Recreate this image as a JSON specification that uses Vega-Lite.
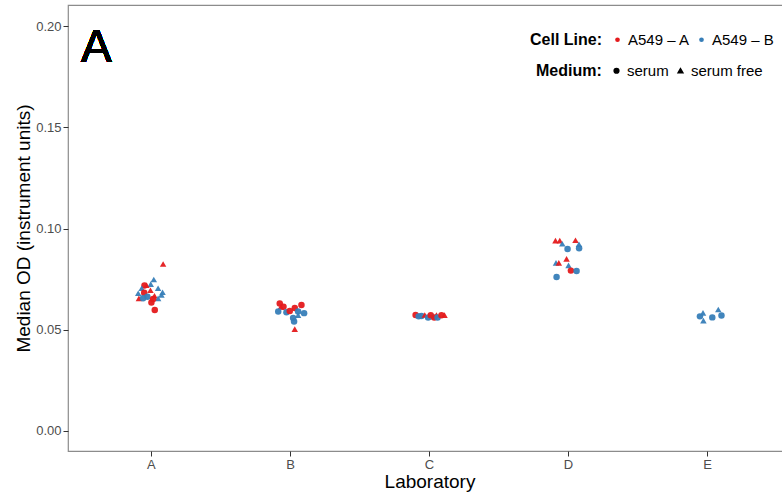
{
  "$schema": "https://vega.github.io/schema/vega-lite/v6.json",
  "autosize": "none",
  "width": 723,
  "height": 446,
  "padding": {"left": 68, "top": 5, "right": 0, "bottom": 43},
  "background": "white",
  "config": {
    "font": "Liberation Sans",
    "view": {"stroke": "#8c8c8c", "strokeWidth": 1.2},
    "axis": {"grid": false, "domain": false, "tickColor": "#333333", "tickSize": 5, "labelColor": "#4d4d4d", "labelFontSize": 13, "titleFontSize": 19, "titleFontWeight": "normal", "titleColor": "black"}
  },
  "data": {
    "values": [
      {"Laboratory": "A", "CellLine": "A549 – A", "Medium": "serum free", "OD": 0.0825, "Jitter": 0.084},
      {"Laboratory": "A", "CellLine": "A549 – B", "Medium": "serum free", "OD": 0.0748, "Jitter": 0.017},
      {"Laboratory": "A", "CellLine": "A549 – B", "Medium": "serum free", "OD": 0.0725, "Jitter": -0.005},
      {"Laboratory": "A", "CellLine": "A549 – A", "Medium": "serum", "OD": 0.0718, "Jitter": -0.05},
      {"Laboratory": "A", "CellLine": "A549 – A", "Medium": "serum free", "OD": 0.0720, "Jitter": -0.036},
      {"Laboratory": "A", "CellLine": "A549 – B", "Medium": "serum free", "OD": 0.0705, "Jitter": -0.07},
      {"Laboratory": "A", "CellLine": "A549 – B", "Medium": "serum free", "OD": 0.0705, "Jitter": 0.048},
      {"Laboratory": "A", "CellLine": "A549 – A", "Medium": "serum free", "OD": 0.0695, "Jitter": -0.007},
      {"Laboratory": "A", "CellLine": "A549 – B", "Medium": "serum free", "OD": 0.0685, "Jitter": 0.08},
      {"Laboratory": "A", "CellLine": "A549 – B", "Medium": "serum free", "OD": 0.0680, "Jitter": -0.095},
      {"Laboratory": "A", "CellLine": "A549 – A", "Medium": "serum", "OD": 0.0683, "Jitter": -0.052},
      {"Laboratory": "A", "CellLine": "A549 – B", "Medium": "serum free", "OD": 0.0672, "Jitter": 0.072},
      {"Laboratory": "A", "CellLine": "A549 – A", "Medium": "serum free", "OD": 0.0668, "Jitter": 0.022},
      {"Laboratory": "A", "CellLine": "A549 – B", "Medium": "serum", "OD": 0.0663, "Jitter": -0.029},
      {"Laboratory": "A", "CellLine": "A549 – A", "Medium": "serum free", "OD": 0.0655, "Jitter": -0.09},
      {"Laboratory": "A", "CellLine": "A549 – B", "Medium": "serum free", "OD": 0.0655, "Jitter": 0.048},
      {"Laboratory": "A", "CellLine": "A549 – A", "Medium": "serum", "OD": 0.0652, "Jitter": 0.012},
      {"Laboratory": "A", "CellLine": "A549 – B", "Medium": "serum", "OD": 0.0655, "Jitter": -0.06},
      {"Laboratory": "A", "CellLine": "A549 – A", "Medium": "serum", "OD": 0.0635, "Jitter": 0.0},
      {"Laboratory": "A", "CellLine": "A549 – A", "Medium": "serum", "OD": 0.0598, "Jitter": 0.024},
      {"Laboratory": "B", "CellLine": "A549 – A", "Medium": "serum", "OD": 0.0630, "Jitter": -0.077},
      {"Laboratory": "B", "CellLine": "A549 – A", "Medium": "serum", "OD": 0.0614, "Jitter": -0.05},
      {"Laboratory": "B", "CellLine": "A549 – A", "Medium": "serum", "OD": 0.0607, "Jitter": 0.031},
      {"Laboratory": "B", "CellLine": "A549 – A", "Medium": "serum", "OD": 0.0622, "Jitter": 0.079},
      {"Laboratory": "B", "CellLine": "A549 – A", "Medium": "serum free", "OD": 0.0612, "Jitter": -0.07},
      {"Laboratory": "B", "CellLine": "A549 – B", "Medium": "serum", "OD": 0.0590, "Jitter": -0.088},
      {"Laboratory": "B", "CellLine": "A549 – B", "Medium": "serum", "OD": 0.0586, "Jitter": -0.029},
      {"Laboratory": "B", "CellLine": "A549 – A", "Medium": "serum", "OD": 0.0592, "Jitter": -0.005},
      {"Laboratory": "B", "CellLine": "A549 – B", "Medium": "serum", "OD": 0.0590, "Jitter": 0.055},
      {"Laboratory": "B", "CellLine": "A549 – B", "Medium": "serum", "OD": 0.0582, "Jitter": 0.098},
      {"Laboratory": "B", "CellLine": "A549 – B", "Medium": "serum free", "OD": 0.0572, "Jitter": 0.055},
      {"Laboratory": "B", "CellLine": "A549 – B", "Medium": "serum", "OD": 0.0558, "Jitter": 0.019},
      {"Laboratory": "B", "CellLine": "A549 – B", "Medium": "serum", "OD": 0.0541, "Jitter": 0.026},
      {"Laboratory": "B", "CellLine": "A549 – A", "Medium": "serum free", "OD": 0.0503, "Jitter": 0.031},
      {"Laboratory": "C", "CellLine": "A549 – A", "Medium": "serum", "OD": 0.0573, "Jitter": -0.1},
      {"Laboratory": "C", "CellLine": "A549 – B", "Medium": "serum", "OD": 0.0566, "Jitter": -0.078},
      {"Laboratory": "C", "CellLine": "A549 – B", "Medium": "serum", "OD": 0.0568, "Jitter": -0.058},
      {"Laboratory": "C", "CellLine": "A549 – A", "Medium": "serum free", "OD": 0.0573, "Jitter": -0.034},
      {"Laboratory": "C", "CellLine": "A549 – B", "Medium": "serum", "OD": 0.0560, "Jitter": -0.01},
      {"Laboratory": "C", "CellLine": "A549 – A", "Medium": "serum", "OD": 0.0572, "Jitter": 0.009},
      {"Laboratory": "C", "CellLine": "A549 – B", "Medium": "serum free", "OD": 0.0565, "Jitter": 0.026},
      {"Laboratory": "C", "CellLine": "A549 – A", "Medium": "serum", "OD": 0.0560, "Jitter": 0.034},
      {"Laboratory": "C", "CellLine": "A549 – A", "Medium": "serum free", "OD": 0.0573, "Jitter": 0.05},
      {"Laboratory": "C", "CellLine": "A549 – B", "Medium": "serum", "OD": 0.0560, "Jitter": 0.058},
      {"Laboratory": "C", "CellLine": "A549 – A", "Medium": "serum", "OD": 0.0572, "Jitter": 0.086},
      {"Laboratory": "C", "CellLine": "A549 – A", "Medium": "serum free", "OD": 0.0572, "Jitter": 0.108},
      {"Laboratory": "D", "CellLine": "A549 – A", "Medium": "serum free", "OD": 0.0940, "Jitter": -0.094},
      {"Laboratory": "D", "CellLine": "A549 – A", "Medium": "serum free", "OD": 0.0940, "Jitter": -0.063},
      {"Laboratory": "D", "CellLine": "A549 – B", "Medium": "serum free", "OD": 0.0925, "Jitter": -0.045},
      {"Laboratory": "D", "CellLine": "A549 – B", "Medium": "serum", "OD": 0.0899, "Jitter": -0.007},
      {"Laboratory": "D", "CellLine": "A549 – A", "Medium": "serum free", "OD": 0.0942, "Jitter": 0.05},
      {"Laboratory": "D", "CellLine": "A549 – B", "Medium": "serum free", "OD": 0.0922, "Jitter": 0.075},
      {"Laboratory": "D", "CellLine": "A549 – B", "Medium": "serum", "OD": 0.0902, "Jitter": 0.076},
      {"Laboratory": "D", "CellLine": "A549 – A", "Medium": "serum free", "OD": 0.0850, "Jitter": -0.014},
      {"Laboratory": "D", "CellLine": "A549 – B", "Medium": "serum free", "OD": 0.0830, "Jitter": -0.09},
      {"Laboratory": "D", "CellLine": "A549 – A", "Medium": "serum free", "OD": 0.0830, "Jitter": -0.07},
      {"Laboratory": "D", "CellLine": "A549 – B", "Medium": "serum free", "OD": 0.0818, "Jitter": 0.0},
      {"Laboratory": "D", "CellLine": "A549 – A", "Medium": "serum", "OD": 0.0792, "Jitter": 0.017},
      {"Laboratory": "D", "CellLine": "A549 – B", "Medium": "serum", "OD": 0.0790, "Jitter": 0.058},
      {"Laboratory": "D", "CellLine": "A549 – B", "Medium": "serum", "OD": 0.0760, "Jitter": -0.086},
      {"Laboratory": "E", "CellLine": "A549 – B", "Medium": "serum", "OD": 0.0566, "Jitter": -0.055},
      {"Laboratory": "E", "CellLine": "A549 – B", "Medium": "serum free", "OD": 0.0583, "Jitter": -0.033},
      {"Laboratory": "E", "CellLine": "A549 – B", "Medium": "serum free", "OD": 0.0545, "Jitter": -0.03},
      {"Laboratory": "E", "CellLine": "A549 – B", "Medium": "serum", "OD": 0.0561, "Jitter": 0.034},
      {"Laboratory": "E", "CellLine": "A549 – B", "Medium": "serum free", "OD": 0.0600, "Jitter": 0.077},
      {"Laboratory": "E", "CellLine": "A549 – B", "Medium": "serum", "OD": 0.0570, "Jitter": 0.1}
    ]
  },
  "layer": [
    {
      "mark": {"type": "point", "filled": true, "opacity": 0.95, "size": 42},
      "encoding": {
        "x": {"field": "Laboratory", "type": "nominal", "scale": {"type": "band", "domain": ["A", "B", "C", "D", "E"], "paddingInner": 0, "paddingOuter": 0.1}, "axis": {"labelAngle": 0, "labelPadding": 2, "titlePadding": 1, "title": "Laboratory"}},
        "xOffset": {"field": "Jitter", "type": "quantitative", "scale": {"domain": [-0.5, 0.5], "range": [0, 139.04]}},
        "y": {"field": "OD", "type": "quantitative", "scale": {"domain": [-0.0099, 0.2104], "nice": false, "zero": false}, "axis": {"values": [0, 0.05, 0.1, 0.15, 0.2], "format": ".2f", "labelPadding": 2, "titlePadding": 2, "title": "Median OD (instrument units)"}},
        "color": {"field": "CellLine", "type": "nominal", "scale": {"domain": ["A549 – A", "A549 – B"], "range": ["#E41A1C", "#377EB8"]}, "legend": {"title": "Cell Line:", "orient": "none", "legendX": 462, "legendY": 27, "direction": "horizontal", "titleOrient": "left", "titleFontWeight": "bold", "titleFontSize": 16, "titleColor": "black", "titlePadding": 7, "labelFontSize": 15, "labelColor": "black", "symbolType": "circle", "symbolSize": 22, "symbolOpacity": 1, "columnPadding": 4, "labelOffset": 3}},
        "shape": {"field": "Medium", "type": "nominal", "scale": {"domain": ["serum", "serum free"], "range": ["circle", "triangle-up"]}, "legend": {"title": "Medium:", "orient": "none", "legendX": 468, "legendY": 58, "direction": "horizontal", "titleOrient": "left", "titleFontWeight": "bold", "titleFontSize": 16, "titleColor": "black", "titlePadding": 7, "labelFontSize": 15, "labelColor": "black", "symbolFillColor": "black", "symbolStrokeColor": "black", "symbolSize": 22, "symbolOpacity": 1, "columnPadding": 4, "labelOffset": 3}}
      }
    },
    {
      "mark": {"type": "text", "fontSize": 46, "fontWeight": "normal", "align": "left", "baseline": "alphabetic", "fill": "black", "strokeWidth": 0, "dx": -1},
      "encoding": {
        "x": {"datum": "A", "bandPosition": 0},
        "y": {"datum": 0.1822},
        "text": {"value": "A"}
      }
    }
  ]
}
